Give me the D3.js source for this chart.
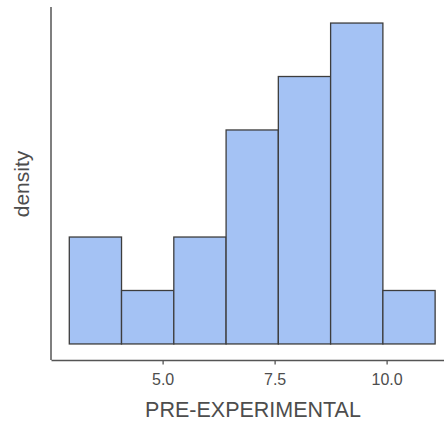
<!DOCTYPE html>
<html><head><meta charset="utf-8">
<script src="https://cdn.jsdelivr.net/npm/d3@7"></script>
<style>body{margin:0;background:#fff}svg{display:block}</style>
</head><body>
<script>
// Histogram bins (PRE-EXPERIMENTAL) and densities
const binEdges = [2.917, 4.083, 5.25, 6.417, 7.583, 8.75, 9.917, 11.083];
const densities = [0.0816, 0.0408, 0.0816, 0.1633, 0.2041, 0.2449, 0.0408];
const xTicks = [5.0, 7.5, 10.0];
const xTitle = "PRE-EXPERIMENTAL";
const yTitle = "density";

const W = 444, H = 423;
const svg = d3.select("body").append("svg").attr("width", W).attr("height", H);

const mLeft = 51, mTop = 7, mBottom = 360;
const span = binEdges[binEdges.length-1] - binEdges[0];
const x = d3.scaleLinear().domain([binEdges[0] - 0.05*span, binEdges[binEdges.length-1] + 0.05*span])
  .range([mLeft, mLeft + (span*1.1)*44.8]);
const ymax = d3.max(densities);
const y = d3.scaleLinear().domain([-0.05*ymax, 1.05*ymax]).range([mBottom, mTop]);

const bins = densities.map((d, i) => ({x0: binEdges[i], x1: binEdges[i+1], d}));

svg.append("g").selectAll("rect").data(bins).join("rect")
  .attr("x", b => x(b.x0)).attr("width", b => x(b.x1) - x(b.x0))
  .attr("y", b => y(b.d)).attr("height", b => y(0) - y(b.d))
  .attr("fill", "#a4c2f4").attr("stroke", "#3d3d3d").attr("stroke-width", 1.3);

const xAxis = svg.append("g").attr("transform", `translate(0,${mBottom})`)
  .call(d3.axisBottom(x).tickValues(xTicks).tickFormat(d3.format(".1f")).tickSize(4.5).tickSizeOuter(0).tickPadding(4));
xAxis.select(".domain").attr("stroke", "#555").attr("stroke-width", 1.3);
xAxis.selectAll(".tick line").attr("stroke", "#555").attr("stroke-width", 1.3);
xAxis.selectAll(".tick text").attr("fill", "#4d4d4d").attr("dy", null).attr("y", 25)
  .style("font-family", "Liberation Sans, Arial, sans-serif").style("font-size", "16px");

svg.append("line").attr("x1", mLeft).attr("x2", mLeft).attr("y1", mTop).attr("y2", mBottom)
  .attr("stroke", "#555").attr("stroke-width", 1.5);

svg.append("text").attr("x", 253).attr("y", 417).attr("text-anchor", "middle")
  .attr("fill", "#4d4d4d").style("font-family", "Liberation Sans, Arial, sans-serif").style("font-size", "21.5px")
  .text(xTitle);

svg.append("text").attr("transform", "translate(29,184) rotate(-90)").attr("text-anchor", "middle")
  .attr("fill", "#4d4d4d").style("font-family", "Liberation Sans, Arial, sans-serif").style("font-size", "21px")
  .text(yTitle);
</script>
</body></html>
